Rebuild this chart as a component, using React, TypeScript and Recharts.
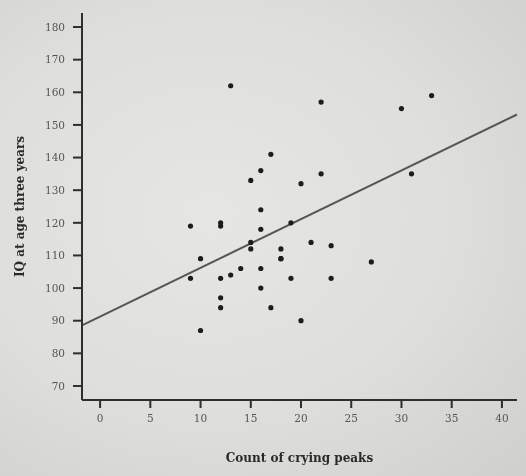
import React from 'react';
import { ScatterChart, Scatter, XAxis, YAxis, ReferenceLine, Label } from 'recharts';

const cryingCounts = [10, 20, 17, 12, 12, 16, 19, 12, 9, 23, 13, 14, 16, 27, 18, 10, 18, 15, 18, 23, 15, 21, 16, 9, 12, 12, 19, 16, 20, 15, 22, 31, 16, 17, 30, 22, 33, 13];
const iqScores = [87, 90, 94, 94, 97, 100, 103, 103, 103, 103, 104, 106, 106, 108, 109, 109, 109, 112, 112, 113, 114, 114, 118, 119, 119, 120, 120, 124, 132, 133, 135, 135, 136, 141, 155, 157, 159, 162];
const xTicks = [0, 5, 10, 15, 20, 25, 30, 35, 40];
const yTicks = [70, 80, 90, 100, 110, 120, 130, 140, 150, 160, 170, 180];
const fitLineX = [-1.8, 41.5];
const fitLineY = [88.6, 153.2];

const points = cryingCounts.map((c, i) => ({ x: c, y: iqScores[i] }));

const Dot = (props: any) => {
  const { cx, cy } = props;
  return <circle cx={cx} cy={cy} r={2.6} fill="#1c1c1c" />;
};

const tickStyle = { fontFamily: 'DejaVu Serif', fontSize: 10.5, fill: '#555' };
const labelStyle = { fontFamily: 'DejaVu Serif', fontSize: 12, fontWeight: 'bold', fill: '#2a2a2a' };

export default function App() {
  return (
    <div
      style={{
        position: 'fixed',
        left: 0,
        top: 0,
        width: 526,
        height: 476,
        background: 'radial-gradient(ellipse at 40% 45%, #e6e6e2 0%, #dededa 55%, #cfcfcb 100%)',
      }}
    >
      <ScatterChart width={526} height={476} margin={{ top: 13, right: 9, left: 0, bottom: 0 }}>
        <XAxis
          type="number"
          dataKey="x"
          domain={[-1.8, 41.5]}
          allowDataOverflow
          ticks={xTicks}
          height={76}
          tickSize={8}
          tickMargin={7}
          tick={tickStyle}
          axisLine={{ stroke: '#2e2e2e', strokeWidth: 2 }}
          tickLine={{ stroke: '#2e2e2e', strokeWidth: 2 }}
        >
          <Label value="Count of crying peaks" position="insideBottom" offset={14} style={labelStyle} />
        </XAxis>
        <YAxis
          type="number"
          dataKey="y"
          domain={[65.7, 184.3]}
          allowDataOverflow
          ticks={yTicks}
          width={82}
          tickSize={9}
          tickMargin={8}
          tick={tickStyle}
          axisLine={{ stroke: '#2e2e2e', strokeWidth: 2 }}
          tickLine={{ stroke: '#2e2e2e', strokeWidth: 2 }}
        >
          <Label
            value="IQ at age three years"
            angle={-90}
            position="insideLeft"
            offset={20}
            style={{ ...labelStyle, textAnchor: 'middle' }}
          />
        </YAxis>
        <ReferenceLine
          segment={[
            { x: fitLineX[0], y: fitLineY[0] },
            { x: fitLineX[1], y: fitLineY[1] },
          ]}
          stroke="#555"
          strokeWidth={2}
          ifOverflow="extendDomain"
        />
        <Scatter data={points} shape={<Dot />} isAnimationActive={false} />
      </ScatterChart>
    </div>
  );
}
